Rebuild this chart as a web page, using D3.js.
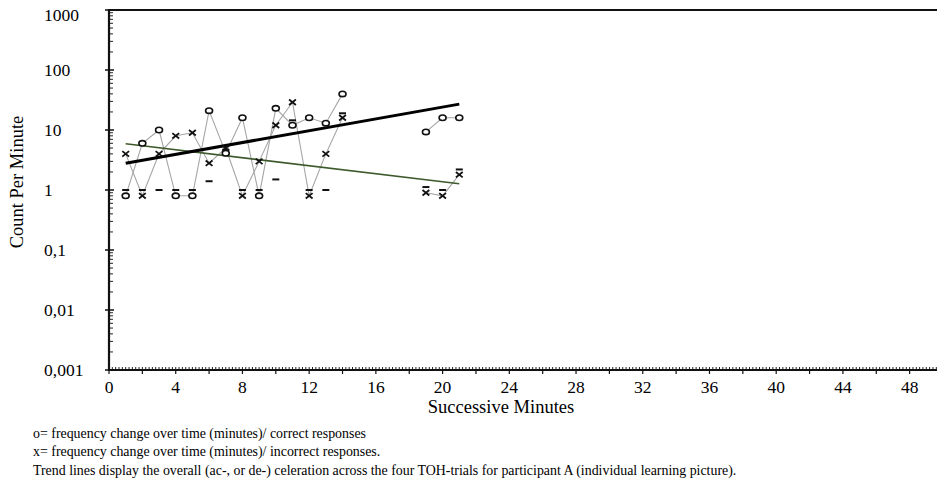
<!DOCTYPE html>
<html>
<head>
<meta charset="utf-8">
<script src="https://cdn.jsdelivr.net/npm/d3@7"></script>
<style>
  body { margin: 0; background: #fff; }
  svg { display: block; font-family: "Liberation Serif", "Times New Roman", serif; }
</style>
</head>
<body>
<div id="chart"></div>
<script>
// minutes of the four TOH trials (gap between 14 and 19)
const minutes   = [1, 2, 3, 4, 5, 6, 7, 8, 9, 10, 11, 12, 13, 14, 19, 20, 21];
const correct   = [0.8, 6, 10, 0.8, 0.8, 21, 4.1, 16, 0.8, 23, 12, 16, 13, 40, 9.3, 16, 16];
const incorrect = [4, 0.8, 4, 8, 9, 2.8, 5, 0.8, 3, 12, 29, 0.8, 4, 16, 0.9, 0.8, 1.8];
const floors    = [1, 1, 1, 1, 1, 1.4, 4.7, 1, 1, 1.5, 14.5, 1, 1, 19, 1.12, 1, 2.2];
// trials as separate connected runs
const segments  = [[1, 14], [19, 21]];
// trend lines: [minute, count]
const trendCorrect   = [[1, 2.8], [21, 27]];
const trendIncorrect = [[1, 5.9], [21, 1.27]];

const yTicks = [1000, 100, 10, 1, 0.1, 0.01, 0.001];
const yTickLabels = ["1000", "100", "10", "1", "0,1", "0,01", "0,001"];
const xTicks = d3.range(0, 49, 4);
const notes = [
  "o= frequency change over time (minutes)/ correct responses",
  "x= frequency change over time (minutes)/ incorrect responses.",
  "Trend lines display the overall (ac-, or de-) celeration across the four TOH-trials for participant A (individual learning picture)."
];

const width = 937, height = 483;
const margin = { t: 10, l: 109, b: 113 };

const svg = d3.select('#chart').append('svg')
  .attr('width', width)
  .attr('height', height);

const x = d3.scaleLinear().domain([0, 50]).range([margin.l, margin.l + 50 * 16.68]);
const y = d3.scaleLog().domain([0.001, 1000]).range([height - margin.b, margin.t]);

// top frame line
svg.append('line')
  .attr('x1', x(0)).attr('x2', width)
  .attr('y1', y(1000)).attr('y2', y(1000))
  .attr('stroke', '#111').attr('stroke-width', 2);

// x axis: minor hatching every 0.2 min, major ticks every 2
const xMinor = d3.range(0, 50.01, 0.2);
svg.append('g').selectAll('line')
  .data(xMinor)
  .join('line')
  .attr('x1', d => x(d)).attr('x2', d => x(d))
  .attr('y1', y(0.001) - 3).attr('y2', y(0.001))
  .attr('stroke', '#222').attr('stroke-width', 1);
svg.append('g').selectAll('line')
  .data(d3.range(0, 50.01, 2))
  .join('line')
  .attr('x1', d => x(d)).attr('x2', d => x(d))
  .attr('y1', y(0.001)).attr('y2', y(0.001) + 4)
  .attr('stroke', '#111').attr('stroke-width', 1.2);
svg.append('line')
  .attr('x1', x(0)).attr('x2', width)
  .attr('y1', y(0.001)).attr('y2', y(0.001))
  .attr('stroke', '#111').attr('stroke-width', 2);

svg.append('g').selectAll('text')
  .data(xTicks)
  .join('text')
  .attr('x', d => x(d))
  .attr('y', y(0.001) + 23)
  .attr('text-anchor', 'middle')
  .style('font-size', '17.5px')
  .text(d => d);

// y axis: log minor ticks
const yMinor = [];
[0.001, 0.01, 0.1, 1, 10, 100].forEach(dec => {
  for (let k = 2; k <= 9; k++) yMinor.push(dec * k);
});
svg.append('g').selectAll('line')
  .data(yMinor)
  .join('line')
  .attr('x1', x(0)).attr('x2', x(0) + 4)
  .attr('y1', d => y(d)).attr('y2', d => y(d))
  .attr('stroke', '#222').attr('stroke-width', 1);
svg.append('g').selectAll('line')
  .data(yTicks)
  .join('line')
  .attr('x1', x(0) - 4).attr('x2', x(0) + 5)
  .attr('y1', d => y(d)).attr('y2', d => y(d))
  .attr('stroke', '#111').attr('stroke-width', 1.5);
svg.append('line')
  .attr('x1', x(0)).attr('x2', x(0))
  .attr('y1', y(1000) - 1).attr('y2', y(0.001) + 1)
  .attr('stroke', '#111').attr('stroke-width', 2.2);

svg.append('g').selectAll('text')
  .data(yTicks)
  .join('text')
  .attr('x', 44)
  .attr('y', d => Math.max(y(d), 15) + 6)
  .style('font-size', '17.5px')
  .text((d, i) => yTickLabels[i]);

// axis titles
svg.append('text')
  .attr('x', x(23.5)).attr('y', 413)
  .attr('text-anchor', 'middle')
  .style('font-size', '18.5px')
  .text('Successive Minutes');
svg.append('text')
  .attr('transform', `translate(23,${y(1) - 8}) rotate(-90)`)
  .attr('text-anchor', 'middle')
  .style('font-size', '18.5px')
  .text('Count Per Minute');

// footnotes
svg.append('g').selectAll('text')
  .data(notes)
  .join('text')
  .attr('x', 33)
  .attr('y', (d, i) => 438 + i * 18.3)
  .style('font-size', '13.9px')
  .text(d => d);

// connecting lines per trial run
const runs = (vals) => segments.map(([a, b]) => minutes
  .map((m, i) => [m, vals[i]])
  .filter(p => p[0] >= a && p[0] <= b));
const line = d3.line().x(d => x(d[0])).y(d => y(d[1]));

const plot = svg.append('g');
plot.selectAll('.run')
  .data(runs(correct).concat(runs(incorrect)))
  .join('path')
  .attr('class', 'run')
  .attr('d', line)
  .attr('fill', 'none')
  .attr('stroke', '#a5a5a5')
  .attr('stroke-width', 1.1);

// trend lines
plot.append('path').datum(trendIncorrect)
  .attr('d', line).attr('fill', 'none')
  .attr('stroke', '#3e5a2c').attr('stroke-width', 1.6);
plot.append('path').datum(trendCorrect)
  .attr('d', line).attr('fill', 'none')
  .attr('stroke', '#000').attr('stroke-width', 3);

// record floor dashes
plot.selectAll('.floor')
  .data(floors)
  .join('line')
  .attr('class', 'floor')
  .attr('x1', (d, i) => x(minutes[i]) - 3.5).attr('x2', (d, i) => x(minutes[i]) + 3.5)
  .attr('y1', d => y(d)).attr('y2', d => y(d))
  .attr('stroke', '#111').attr('stroke-width', 2);

// correct (o)
plot.selectAll('.corr')
  .data(correct)
  .join('ellipse')
  .attr('class', 'corr')
  .attr('cx', (d, i) => x(minutes[i]))
  .attr('cy', d => y(d))
  .attr('rx', 3.5).attr('ry', 2.7)
  .attr('fill', '#fff')
  .attr('stroke', '#111').attr('stroke-width', 1.6);

// incorrect (x)
const xs = 3.4;
plot.selectAll('.inc')
  .data(incorrect)
  .join('path')
  .attr('class', 'inc')
  .attr('transform', (d, i) => `translate(${x(minutes[i])},${y(d)})`)
  .attr('d', `M${-xs},${-xs * 0.8}L${xs},${xs * 0.8}M${-xs},${xs * 0.8}L${xs},${-xs * 0.8}`)
  .attr('stroke', '#111').attr('stroke-width', 1.8);
</script>
</body>
</html>
